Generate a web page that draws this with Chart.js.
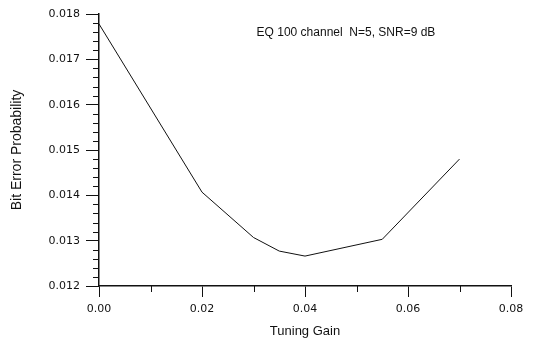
<!DOCTYPE html>
<html>
<head>
<meta charset="utf-8">
<script src="https://cdn.jsdelivr.net/npm/chart.js@4/dist/chart.umd.min.js"></script>
<style>
  html, body { margin: 0; padding: 0; background: #fff; }
  #wrap { width: 538px; height: 342px; position: relative; }
</style>
</head>
<body>
<div id="wrap"><canvas id="c" width="538" height="342"></canvas></div>
<script>
// Data
const tuningGain = [0.00, 0.02, 0.03, 0.035, 0.04, 0.055, 0.07];
const bitErrorProb = [0.01778, 0.01407, 0.01307, 0.01277, 0.01266, 0.01303, 0.01480];
const xTicks = [0.00, 0.02, 0.04, 0.06, 0.08];
const yTicks = [0.012, 0.013, 0.014, 0.015, 0.016, 0.017, 0.018];
const xMinorTicks = [0.01, 0.03, 0.05, 0.07];
const yMinorStep = 0.0002;
const annotationText = 'EQ 100 channel  N=5, SNR=9 dB';
const xTitle = 'Tuning Gain';
const yTitle = 'Bit Error Probability';

const ink = '#111111';
const tickFont = { family: 'DejaVu Sans', size: 11 };

const minorTicks = {
  id: 'minorTicks',
  afterDraw(chart) {
    const ctx = chart.ctx;
    const xs = chart.scales.x, ys = chart.scales.y;
    const area = chart.chartArea;
    ctx.save();
    ctx.strokeStyle = ink;
    ctx.lineWidth = 1;
    ctx.beginPath();
    const n = Math.round((yTicks[yTicks.length - 1] - yTicks[0]) / yMinorStep);
    for (let i = 1; i < n; i++) {
      if (i % 5 === 0) continue;
      const v = yTicks[0] + i * yMinorStep;
      const py = Math.round(ys.getPixelForValue(v)) + 0.5;
      ctx.moveTo(area.left - 6, py);
      ctx.lineTo(area.left, py);
    }
    xMinorTicks.forEach(v => {
      const px = Math.round(xs.getPixelForValue(v)) + 0.5;
      ctx.moveTo(px, area.bottom);
      ctx.lineTo(px, area.bottom + 6);
    });
    ctx.stroke();
    // annotation text
    ctx.fillStyle = ink;
    ctx.font = '12px "Liberation Sans"';
    ctx.textAlign = 'left';
    ctx.textBaseline = 'middle';
    ctx.fillText(annotationText, xs.getPixelForValue(0.0306), ys.getPixelForValue(0.01758));
    ctx.restore();
  }
};

new Chart(document.getElementById('c'), {
  type: 'line',
  data: {
    datasets: [{
      data: tuningGain.map((x, i) => ({ x: x, y: bitErrorProb[i] })),
      borderColor: ink,
      borderWidth: 1,
      pointRadius: 0,
      tension: 0,
      fill: false
    }]
  },
  options: {
    responsive: false,
    animation: false,
    layout: { padding: { top: 14, right: 27, bottom: 0, left: 0 } },
    plugins: { legend: { display: false }, tooltip: { enabled: false }, title: { display: false } },
    scales: {
      x: {
        type: 'linear',
        min: xTicks[0],
        max: xTicks[xTicks.length - 1],
        afterBuildTicks: s => { s.ticks = xTicks.map(v => ({ value: v })); },
        afterFit: s => { s.height = 56; },
        ticks: {
          callback: v => Number(v).toFixed(2),
          color: ink,
          font: tickFont,
          padding: 6,
          maxRotation: 0,
          autoSkip: false
        },
        grid: { drawOnChartArea: false, tickLength: 11, color: ink, tickWidth: 1 },
        border: { display: true, color: ink, width: 1.5 },
        title: {
          display: true,
          text: xTitle,
          color: ink,
          font: { family: 'Liberation Sans', size: 13 },
          padding: { top: 4, bottom: 3 }
        }
      },
      y: {
        type: 'linear',
        min: yTicks[0],
        max: yTicks[yTicks.length - 1],
        afterBuildTicks: s => { s.ticks = yTicks.map(v => ({ value: v })); },
        afterFit: s => { s.width = 99; },
        ticks: {
          callback: v => Number(v).toFixed(3),
          color: ink,
          font: tickFont,
          padding: 6,
          autoSkip: false
        },
        grid: { drawOnChartArea: false, tickLength: 13, color: ink, tickWidth: 1 },
        border: { display: true, color: ink, width: 1.5 },
        title: {
          display: true,
          text: yTitle,
          color: ink,
          font: { family: 'Liberation Sans', size: 14 },
          padding: { top: 9, bottom: 0 }
        }
      }
    }
  },
  plugins: [minorTicks]
});
</script>
</body>
</html>
